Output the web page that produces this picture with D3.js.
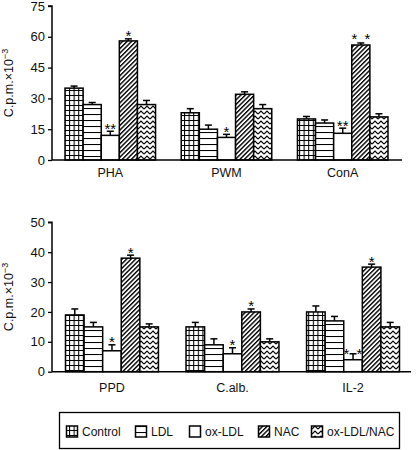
<!DOCTYPE html>
<html><head><meta charset="utf-8">
<script src="https://cdn.jsdelivr.net/npm/d3@7"></script>
<style>
html,body{margin:0;padding:0;background:#fff;}
svg{display:block;font-family:"Liberation Sans",Arial,Helvetica,sans-serif;}
</style></head>
<body>
<svg id="chart" width="416" height="450"></svg>
<script>
// ---- data ----
const series = ["Control", "LDL", "ox-LDL", "NAC", "ox-LDL/NAC"];
const topCategories = ["PHA", "PWM", "ConA"];
const bottomCategories = ["PPD", "C.alb.", "IL-2"];

const topControl = [35, 23, 20];
const topLDL = [27, 15, 18];
const topOxLDL = [12, 11, 13];
const topNAC = [58, 32, 56];
const topOxNAC = [27, 25, 21];
const topControlErr = [1, 2, 1.2];
const topLDLErr = [1, 2, 1.5];
const topOxLDLErr = [2, 1.5, 2.5];
const topNACErr = [1, 1.2, 1];
const topOxNACErr = [2, 2, 1.5];
const topOxLDLSig = ["**", "*", "**"];
const topNACSig = ["*", "", "* *"];

const bottomControl = [19, 15, 20];
const bottomLDL = [15, 9, 17];
const bottomOxLDL = [7, 6, 4];
const bottomNAC = [38, 20, 35];
const bottomOxNAC = [15, 10, 15];
const bottomControlErr = [2, 1.5, 2];
const bottomLDLErr = [1.5, 2, 1.5];
const bottomOxLDLErr = [2, 2, 2];
const bottomNACErr = [1, 1, 1];
const bottomOxNACErr = [1, 1, 1.5];
const bottomOxLDLSig = ["*", "*", "* *"];
const bottomNACSig = ["*", "*", "*"];

const topTicks = [0, 15, 30, 45, 60, 75];
const bottomTicks = [0, 10, 20, 30, 40, 50];

// ---- build ----
const svg = d3.select("#chart");
const defs = svg.append("defs");
const patternIds = ["pGrid", "pHoriz", null, "pDiag", "pZig"];

let p = defs.append("pattern").attr("id", "pGrid").attr("patternUnits", "userSpaceOnUse")
  .attr("width", 4.6).attr("height", 5);
p.append("rect").attr("width", 4.6).attr("height", 5).attr("fill", "#fff");
p.append("path").attr("d", "M0,0.5H4.6M0.5,0V5").attr("stroke", "#000").attr("stroke-width", 1.1);
p = defs.append("pattern").attr("id", "pHoriz").attr("patternUnits", "userSpaceOnUse")
  .attr("width", 6).attr("height", 6);
p.append("rect").attr("width", 6).attr("height", 6).attr("fill", "#fff");
p.append("path").attr("d", "M0,0.5H6").attr("stroke", "#000").attr("stroke-width", 1.1);
p = defs.append("pattern").attr("id", "pDiag").attr("patternUnits", "userSpaceOnUse")
  .attr("width", 3.2).attr("height", 3.2).attr("patternTransform", "rotate(45)");
p.append("rect").attr("width", 3.2).attr("height", 3.2).attr("fill", "#fff");
p.append("path").attr("d", "M0.7,0V3.2").attr("stroke", "#000").attr("stroke-width", 1.4);
p = defs.append("pattern").attr("id", "pZig").attr("patternUnits", "userSpaceOnUse")
  .attr("width", 6).attr("height", 5);
p.append("rect").attr("width", 6).attr("height", 5).attr("fill", "#fff");
p.append("path").attr("d", "M0,4L3,1L6,4").attr("fill", "none").attr("stroke", "#000").attr("stroke-width", 1.2);

function fillFor(i) { return patternIds[i] ? `url(#${patternIds[i]})` : "#fff"; }

function panel(cfg) {
  const g = svg.append("g");
  const y = d3.scaleLinear().domain([cfg.ticks[0], cfg.ticks[cfg.ticks.length - 1]]).range([cfg.y0, cfg.y1]);
  const x = d3.scaleBand().domain(cfg.categories).range(cfg.xRange)
    .paddingInner(cfg.padIn).paddingOuter(cfg.padOut);
  const xi = d3.scaleBand().domain(series).range([0, x.bandwidth()]);

  const rows = [];
  cfg.categories.forEach((c, ci) => {
    series.forEach((s, si) => {
      rows.push({c, s, si, v: cfg.values[si][ci], e: cfg.errs[si][ci],
        sig: si === 2 ? cfg.sigOx[ci] : si === 3 ? cfg.sigNAC[ci] : "", cat: ci});
    });
  });

  const eb = g.append("g").attr("stroke", "#000").attr("stroke-width", 1.5);
  rows.forEach(d => {
    const cx = x(d.c) + xi(d.s) + xi.bandwidth() / 2;
    eb.append("line").attr("x1", cx).attr("x2", cx).attr("y1", y(d.v)).attr("y2", y(d.v + d.e));
    eb.append("line").attr("x1", cx - 3.5).attr("x2", cx + 3.5).attr("y1", y(d.v + d.e)).attr("y2", y(d.v + d.e));
  });

  g.append("g").selectAll("rect").data(rows).join("rect")
    .attr("x", d => x(d.c) + xi(d.s))
    .attr("y", d => y(d.v))
    .attr("width", xi.bandwidth())
    .attr("height", d => y(0) - y(d.v))
    .attr("fill", d => fillFor(d.si))
    .attr("stroke", "#000").attr("stroke-width", 1.5);

  rows.filter(d => d.sig).forEach(d => {
    const cx = x(d.c) + xi(d.s) + xi.bandwidth() / 2;
    const cy = y(d.v + d.e);
    if (d.sig.includes(" ")) {
      const spread = 6.5;
      const base = d.si === 2 ? cy + 5 : cy + 1;
      [-spread, spread].forEach(dx => g.append("text").attr("x", cx + dx).attr("y", base)
        .attr("text-anchor", "middle").attr("font-size", 15).text("*"));
    } else {
      g.append("text").attr("x", cx).attr("y", cy + 2.5)
        .attr("text-anchor", "middle").attr("font-size", 15).text(d.sig);
    }
  });

  const ya = g.append("g").attr("transform", `translate(${cfg.xRange[0]},0)`)
    .call(d3.axisLeft(y).tickValues(cfg.ticks).tickSize(4).tickPadding(3));
  ya.select(".domain").attr("stroke-width", 1.5).attr("d", `M-4,${cfg.y1}H0V${cfg.y0}`);
  ya.selectAll(".tick line").attr("stroke-width", 1.3);
  ya.selectAll("text").attr("font-size", 13).attr("font-family", "Liberation Sans, Arial, sans-serif").attr("fill", "#111");

  g.append("line").attr("x1", cfg.xRange[0]).attr("x2", cfg.axisEnd).attr("y1", cfg.y0).attr("y2", cfg.y0)
    .attr("stroke", "#000").attr("stroke-width", 1.5);

  g.selectAll("text.cat").data(cfg.categories).join("text").attr("class", "cat")
    .attr("x", d => x(d) + x.bandwidth() / 2).attr("y", cfg.labelY)
    .attr("text-anchor", "middle").attr("font-size", 12.5).attr("fill", "#111").text(d => d);

  const yl = g.append("text").attr("transform", `translate(13,${(cfg.y0 + cfg.y1) / 2}) rotate(-90)`)
    .attr("text-anchor", "middle").attr("font-size", 12.5).attr("fill", "#111");
  yl.append("tspan").text("C.p.m.\u00d710");
  yl.append("tspan").attr("dy", -5).attr("font-size", 9).text("\u22123");
}

panel({
  categories: topCategories,
  values: [topControl, topLDL, topOxLDL, topNAC, topOxNAC],
  errs: [topControlErr, topLDLErr, topOxLDLErr, topNACErr, topOxNACErr],
  sigOx: topOxLDLSig, sigNAC: topNACSig,
  ticks: topTicks, y0: 160, y1: 6,
  xRange: [52, 401], padIn: 0.221, padOut: 0.112, axisEnd: 402, labelY: 177
});
panel({
  categories: bottomCategories,
  values: [bottomControl, bottomLDL, bottomOxLDL, bottomNAC, bottomOxNAC],
  errs: [bottomControlErr, bottomLDLErr, bottomOxLDLErr, bottomNACErr, bottomOxNACErr],
  sigOx: bottomOxLDLSig, sigNAC: bottomNACSig,
  ticks: bottomTicks, y0: 371.7, y1: 222.3,
  xRange: [52, 413], padIn: 0.229, padOut: 0.112, axisEnd: 411, labelY: 392
});

const lg = svg.append("g");
lg.append("rect").attr("x", 59.5).attr("y", 412.5).attr("width", 340).attr("height", 36)
  .attr("fill", "#fff").attr("stroke", "#000").attr("stroke-width", 1.3);
const legendX = [66, 135, 189, 258, 311];
series.forEach((s, i) => {
  lg.append("rect").attr("x", legendX[i] + 0.5).attr("y", 426).attr("width", 11).attr("height", 11)
    .attr("fill", fillFor(i)).attr("stroke", "#000").attr("stroke-width", 1.5);
  lg.append("text").attr("x", legendX[i] + 16).attr("y", 436).attr("font-size", 12).attr("fill", "#111").text(s);
});
</script>
</body></html>
